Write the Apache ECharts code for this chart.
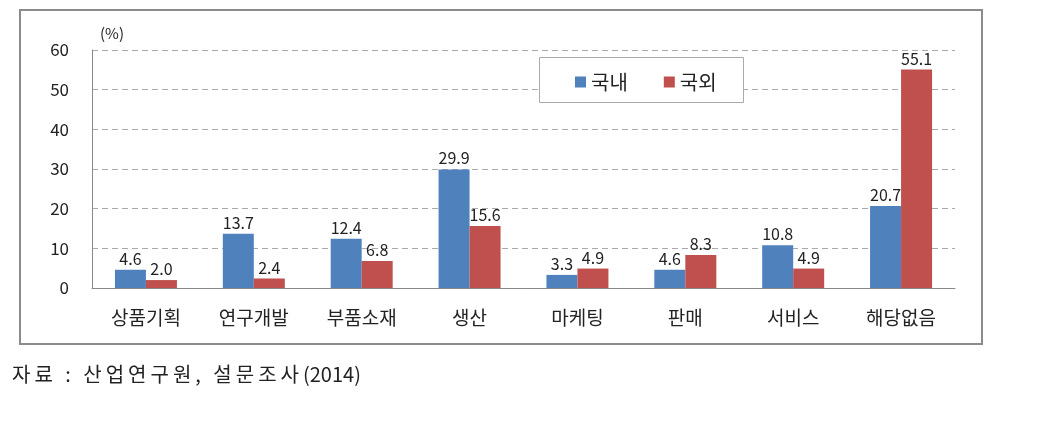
<!DOCTYPE html>
<html><head><meta charset="utf-8">
<script src="https://cdn.jsdelivr.net/npm/echarts@6/dist/echarts.min.js"></script>
<style>
html,body{margin:0;padding:0;background:#fff;}
#frame{position:absolute;left:19px;top:9px;width:964px;height:336px;border:2px solid #8c8c8c;box-sizing:border-box;}
#chart{position:absolute;left:0;top:0;width:1040px;height:421px;}
#src{position:absolute;left:12px;top:359px;font-family:"Noto Sans CJK KR";font-size:20px;color:#222;}
#src span{letter-spacing:4px;}
</style></head>
<body>
<div id="frame"></div>
<div id="chart"></div>
<div id="src"><span>자료 : 산업연구원, 설문조사</span>(2014)</div>
<script>
const categories = ['상품기획','연구개발','부품소재','생산','마케팅','판매','서비스','해당없음'];
const domestic = [4.6, 13.7, 12.4, 29.9, 3.3, 4.6, 10.8, 20.7];
const overseas = [2.0, 2.4, 6.8, 15.6, 4.9, 8.3, 4.9, 55.1];
const seriesNames = ['국내','국외'];
const yTicks = {min:0, max:60, interval:10};

const chart = echarts.init(document.getElementById('chart'), null, {renderer:'canvas'});
const font = '"Noto Sans CJK KR", "Noto Sans", sans-serif';
const lbl = {show:true, position:'top', color:'#222', fontSize:16, fontFamily:font, distance:3,
  formatter: p => p.value.toFixed(1)};
chart.setOption({
  animation:false,
  graphic:[{type:'rect', left:539, top:57, shape:{width:204, height:45},
    style:{fill:'#fff', stroke:'#aaa', lineWidth:1}, z:5}],
  grid:{left:92, right:85, top:50, bottom:133, containLabel:false},
  legend:{
    data:seriesNames, left:570, top:67, z:10, itemGap:36,
    icon:'rect', itemWidth:11, itemHeight:11,
    textStyle:{fontSize:20, fontFamily:font, color:'#222'}
  },
  xAxis:{
    type:'category', data:categories,
    axisLine:{lineStyle:{color:'#888'}}, axisTick:{show:false},
    axisLabel:{fontSize:19, fontFamily:font, color:'#222', margin:20}
  },
  yAxis:{
    type:'value', min:yTicks.min, max:yTicks.max, interval:yTicks.interval,
    name:'(%)', nameLocation:'end', nameGap:9,
    nameTextStyle:{fontSize:15, fontFamily:font, color:'#222', align:'left', padding:[0,0,0,8]},
    axisLine:{show:true, lineStyle:{color:'#888'}}, axisTick:{show:false},
    axisLabel:{fontSize:17, fontFamily:font, color:'#222', margin:23},
    splitLine:{lineStyle:{color:'#aaa', type:[6,4]}}
  },
  series:[
    {name:seriesNames[0], type:'bar', data:domestic, barWidth:31, barGap:'0%',
     itemStyle:{color:'#4F81BD'}, label:lbl},
    {name:seriesNames[1], type:'bar', data:overseas, barWidth:31, barGap:'0%',
     itemStyle:{color:'#C0504D'}, label:lbl}
  ]
});
</script>
</body></html>
